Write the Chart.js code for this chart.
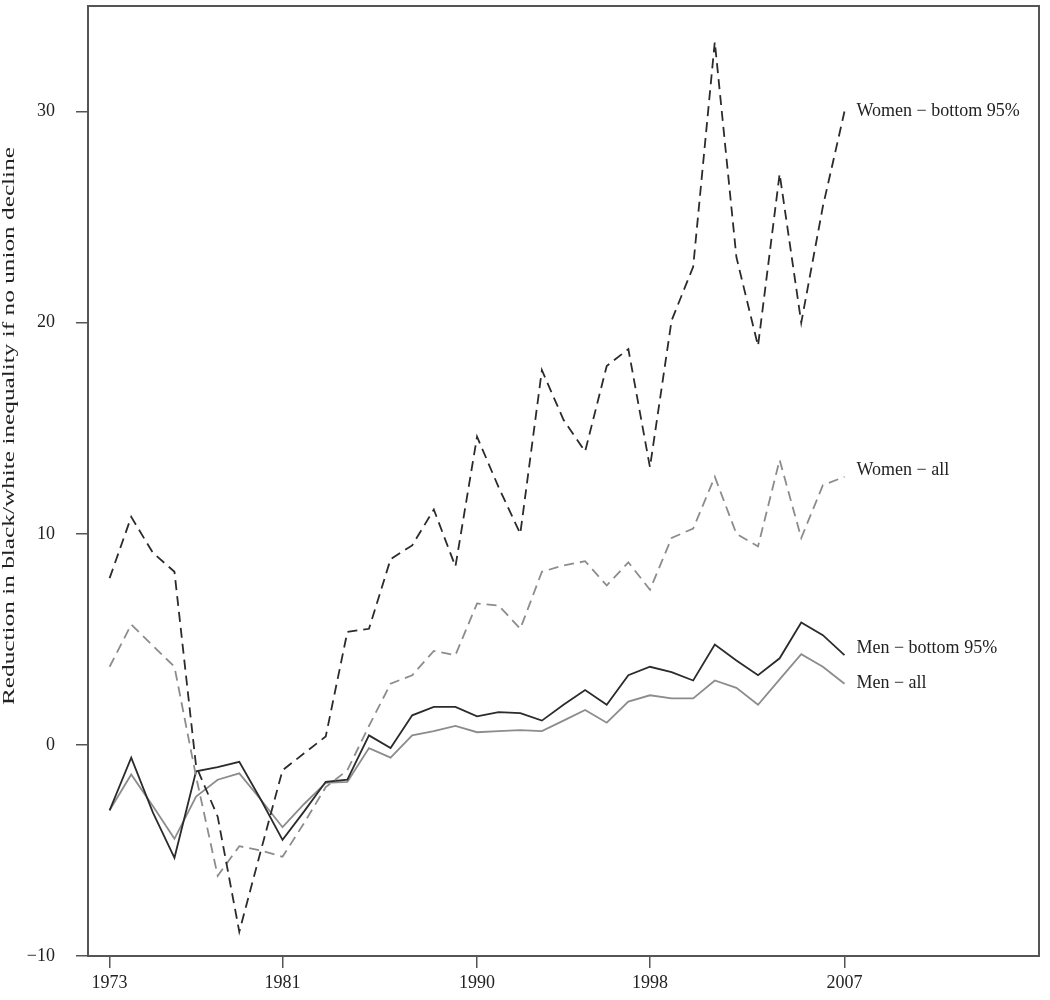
<!DOCTYPE html>
<html>
<head>
<meta charset="utf-8">
<script src="https://cdn.jsdelivr.net/npm/chart.js@4.4.0/dist/chart.umd.min.js"></script>
<style>
  body { margin: 0; background: #fff; }
  #chart { display: block; }
</style>
</head>
<body>
<canvas id="chart" width="1050" height="1000"></canvas>
<script>
// Years 1973-2007
const years = [];
for (let y = 1973; y <= 2007; y++) years.push(y);

const womenBottom = [7.9, 10.8, 9.1, 8.2, -1.0, -3.4, -8.85, -5.0, -1.2, -0.4,
    0.4, 5.35, 5.5, 8.8, 9.45, 11.15, 8.45, 14.6, 12.2, 10.0,
    17.75, 15.4, 13.9, 17.95, 18.75, 13.15, 20.1, 22.65, 33.3, 23.1,
    18.9, 27.05, 20.0, 25.5, 30.0];

const womenAll = [3.7, 5.7, 4.7, 3.7, -1.5, -6.2, -4.8, -5.0, -5.3, -3.7,
    -2.0, -1.2, 0.9, 2.9, 3.3, 4.45, 4.25, 6.7, 6.6, 5.5,
    8.2, 8.5, 8.7, 7.55, 8.65, 7.35, 9.8, 10.25, 12.7, 10.0,
    9.4, 13.5, 9.8, 12.3, 12.7];

const menBottom = [-3.1, -0.6, -3.2, -5.35, -1.25, -1.05, -0.8, -2.6, -4.5, -3.15,
    -1.75, -1.65, 0.45, -0.15, 1.4, 1.8, 1.8, 1.35, 1.55, 1.5,
    1.15, 1.9, 2.6, 1.9, 3.3, 3.7, 3.45, 3.05, 4.75, 4.0,
    3.3, 4.1, 5.8, 5.2, 4.25];

const menAll = [-3.1, -1.4, -2.9, -4.45, -2.45, -1.65, -1.35, -2.6, -3.9, -2.8,
    -1.8, -1.75, -0.15, -0.6, 0.45, 0.65, 0.9, 0.6, 0.65, 0.7,
    0.65, 1.15, 1.65, 1.05, 2.05, 2.35, 2.2, 2.2, 3.05, 2.7,
    1.9, 3.1, 4.3, 3.7, 2.9];

const seriesNames = ['Women \u2212 bottom 95%', 'Women \u2212 all', 'Men \u2212 bottom 95%', 'Men \u2212 all'];
const labelY = [30, 13, 4.6, 2.9];
const xTicks = [1973, 1981, 1990, 1998, 2007];
const yTicks = [-10, 0, 10, 20, 30];
const yTitle = 'Reduction in black/white inequality if no union decline';

const DARK = '#2b2b2b';
const GRAY = '#8c8c8c';
const FONT = '"Liberation Serif", "DejaVu Serif", serif';

function pts(vals) {
    return vals.map((v, i) => ({ x: years[i], y: v }));
}

// box round the plot, series labels, rotated y title
const extras = {
    id: 'extras',
    afterDraw(chart) {
        const ctx = chart.ctx;
        const a = chart.chartArea;
        const xs = chart.scales.x;
        const ys = chart.scales.y;
        ctx.save();
        ctx.strokeStyle = '#555';
        ctx.lineWidth = 2;
        ctx.strokeRect(a.left, a.top, a.right - a.left, a.bottom - a.top);

        ctx.fillStyle = '#222';
        ctx.font = '18px ' + FONT;
        ctx.textAlign = 'left';
        ctx.textBaseline = 'middle';
        seriesNames.forEach((name, i) => {
            ctx.fillText(name, xs.getPixelForValue(2007) + 12, ys.getPixelForValue(labelY[i]));
        });

        // the source text is tall and narrow, so squeeze it a little across
        ctx.font = '22px ' + FONT;
        const w = ctx.measureText(yTitle).width;
        ctx.translate(10, 426);
        ctx.rotate(-Math.PI / 2);
        ctx.scale(558 / w, 0.74);
        ctx.textAlign = 'center';
        ctx.fillText(yTitle, 0, 0);
        ctx.restore();
    }
};

new Chart(document.getElementById('chart'), {
    type: 'line',
    data: {
        datasets: [
            { label: seriesNames[0], data: pts(womenBottom), borderColor: DARK, borderWidth: 1.8, borderDash: [10, 6] },
            { label: seriesNames[1], data: pts(womenAll), borderColor: GRAY, borderWidth: 1.8, borderDash: [10, 6] },
            { label: seriesNames[2], data: pts(menBottom), borderColor: DARK, borderWidth: 1.8 },
            { label: seriesNames[3], data: pts(menAll), borderColor: GRAY, borderWidth: 1.8 }
        ]
    },
    options: {
        responsive: false,
        animation: false,
        devicePixelRatio: 1,
        elements: { point: { radius: 0 }, line: { tension: 0, fill: false } },
        layout: { padding: { top: 6, right: 11, left: 0, bottom: 0 } },
        plugins: { legend: { display: false }, tooltip: { enabled: false } },
        scales: {
            x: {
                type: 'linear',
                min: 1972,
                max: 2016,
                afterBuildTicks: s => { s.ticks = xTicks.map(v => ({ value: v })); },
                afterFit: s => { s.height = 44; s.paddingLeft = 0; s.paddingRight = 0; },
                grid: { drawOnChartArea: false, tickLength: 12, color: '#555', lineWidth: 1.5 },
                border: { display: true, color: '#555', width: 2 },
                ticks: {
                    padding: 4,
                    color: '#222',
                    font: { family: FONT, size: 18 },
                    maxRotation: 0,
                    callback: v => String(v)
                }
            },
            y: {
                min: -10,
                max: 35,
                afterBuildTicks: s => { s.ticks = yTicks.map(v => ({ value: v })); },
                afterFit: s => { s.width = 88; s.paddingTop = 0; s.paddingBottom = 0; },
                grid: { drawOnChartArea: false, tickLength: 12, color: '#555', lineWidth: 1.5 },
                border: { display: true, color: '#555', width: 2 },
                ticks: {
                    padding: 21,
                    color: '#222',
                    font: { family: FONT, size: 18 },
                    callback: v => String(v).replace('-', '\u2212')
                }
            }
        }
    },
    plugins: [extras]
});
</script>
</body>
</html>
